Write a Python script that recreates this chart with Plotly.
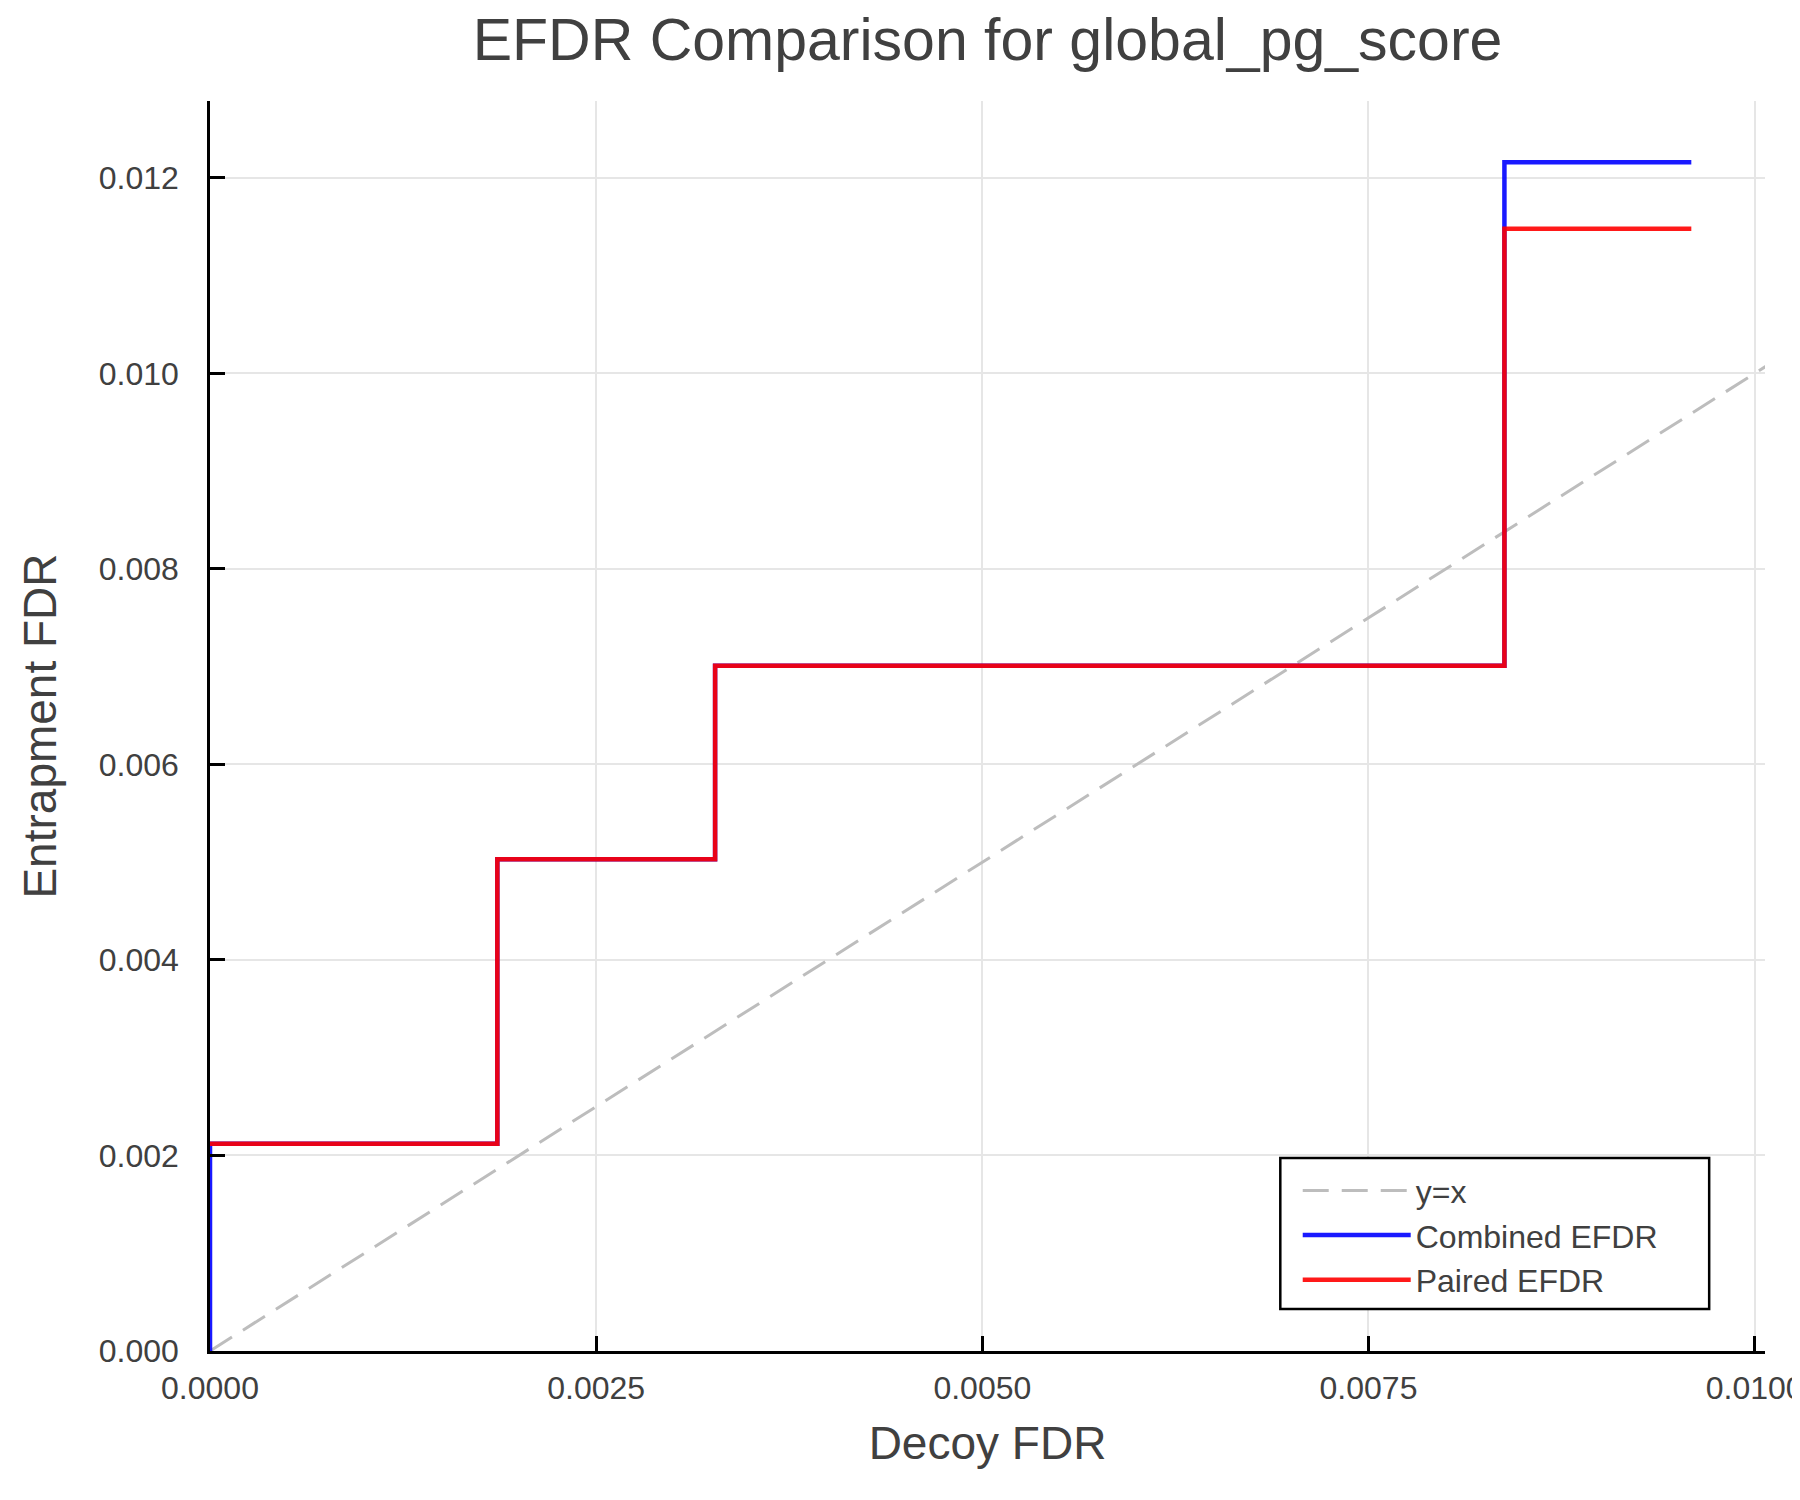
import plotly.graph_objects as go

# Step data (decoy FDR -> entrapment FDR)
decoy_fdr_combined = [0.0, 0.0, 0.00186, 0.00327, 0.00838, 0.00959]
efdr_combined = [0.0, 0.00212, 0.00503, 0.00701, 0.01216, 0.01216]

decoy_fdr_paired = [0.0, 0.00186, 0.00327, 0.00838, 0.00959]
efdr_paired = [0.00212, 0.00503, 0.00701, 0.01148, 0.01148]

diag = [0.0, 0.0105]

x_ticks = [0.0, 0.0025, 0.005, 0.0075, 0.01]
y_ticks = [0.0, 0.002, 0.004, 0.006, 0.008, 0.010, 0.012]

FONT = "Liberation Sans, Arial, sans-serif"
TXT = "#404040"

fig = go.Figure()
fig.add_trace(go.Scatter(x=diag, y=diag, mode="lines", name="y=x",
                         line=dict(color="#bdbdbd", width=3, dash="26px,13px")))
fig.add_trace(go.Scatter(x=decoy_fdr_combined, y=efdr_combined, mode="lines",
                         name="Combined EFDR", line_shape="hv",
                         line=dict(color="rgba(0,0,255,0.9)", width=4.5)))
fig.add_trace(go.Scatter(x=decoy_fdr_paired, y=efdr_paired, mode="lines",
                         name="Paired EFDR", line_shape="hv",
                         line=dict(color="rgba(255,0,0,0.9)", width=4.5)))

# legend frame drawn as a shape so it can be wider than plotly's own box
fig.add_shape(type="rect", xref="paper", yref="paper",
              x0=0.6883, x1=0.9641, y0=0.0336, y1=0.1544,
              line=dict(color="black", width=2.5), fillcolor="white", layer="above")

# page body has an 8px margin, so margins are shifted to keep the plot box in place
fig.update_layout(
    width=1800, height=1500,
    margin=dict(l=202, r=43, t=93, b=157),
    paper_bgcolor="white", plot_bgcolor="white",
    font=dict(family=FONT, color=TXT, size=32),
    title=dict(text="EFDR Comparison for global_pg_score", xref="paper", x=0.5,
               xanchor="center", y=1 - 31 / 1500, yanchor="middle",
               font=dict(size=59, color=TXT)),
    legend=dict(x=0.6995, y=0.1503, xanchor="left", yanchor="top",
                bgcolor="rgba(0,0,0,0)", borderwidth=0,
                font=dict(size=32, color=TXT), itemwidth=108, tracegroupgap=0),
)
fig.update_xaxes(
    range=[0, 0.010067], tickvals=x_ticks, tickformat=".4f", automargin=False,
    showline=True, linecolor="black", linewidth=2.5, mirror=False,
    ticks="inside", ticklen=15, tickwidth=2.5, tickcolor="black",
    showgrid=True, gridcolor="#e6e6e6", gridwidth=1.5, zeroline=False,
    tickfont=dict(size=32, color=TXT), ticklabelstandoff=7,
    title=dict(text="Decoy FDR", font=dict(size=46, color=TXT), standoff=22),
)
fig.update_yaxes(
    range=[0, 0.012787], tickvals=y_ticks, tickformat=".3f",
    showline=True, linecolor="black", linewidth=2.5, mirror=False,
    ticks="inside", ticklen=15, tickwidth=2.5, tickcolor="black",
    showgrid=True, gridcolor="#e6e6e6", gridwidth=1.5, zeroline=False,
    tickfont=dict(size=32, color=TXT), ticklabelstandoff=22,
    title=dict(text="Entrapment FDR", font=dict(size=46, color=TXT), standoff=28),
)

fig.write_html("out.html")
